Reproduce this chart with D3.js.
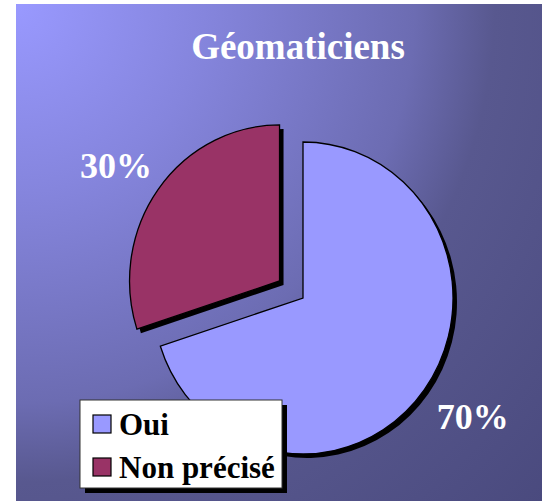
<!DOCTYPE html>
<html>
<head>
<meta charset="utf-8">
<script src="https://cdn.jsdelivr.net/npm/d3@7"></script>
<style>
  body { margin: 0; background: #fff; }
  svg { display: block; }
  text { font-family: "Liberation Serif", "Times New Roman", serif; font-weight: bold; }
</style>
</head>
<body>
<svg id="chart" width="542" height="501"></svg>
<script>
// data
var categories = ["Oui", "Non précisé"];
var values = [70, 30];
var labels = ["70%", "30%"];
var colors = ["#9999ff", "#993366"];
var explode = [0, 29];

var svg = d3.select("#chart");

// background, radial-ish from the top left corner
var defs = svg.append("defs");
var grad = defs.append("radialGradient")
    .attr("id", "bg")
    .attr("gradientUnits", "userSpaceOnUse")
    .attr("cx", 16).attr("cy", 4).attr("r", 725);
[[0, "#9999ff"], [0.26, "#8585dd"], [0.55, "#6c6cb2"], [0.66, "#58588f"], [1, "#4a4a7e"]]
    .forEach(function(s) {
        grad.append("stop").attr("offset", s[0]).attr("stop-color", s[1]);
    });

svg.append("rect")
    .attr("x", 16).attr("y", 4)
    .attr("width", 526).attr("height", 497)
    .attr("fill", "url(#bg)");

svg.append("text")
    .attr("x", 298).attr("y", 59)
    .attr("text-anchor", "middle")
    .attr("font-size", 37)
    .attr("fill", "#fff")
    .text("Géomaticiens");

// pie
var cx = 303, cy = 298, rx = 150, ry = 156;

var pie = d3.pie().sort(null).value(function(d) { return d; });
var arcs = pie(values);

var arc = d3.arc().innerRadius(0).outerRadius(1);

var g = svg.append("g");

var slice = g.selectAll("g.slice")
    .data(arcs)
    .enter()
    .append("g")
    .attr("class", "slice")
    .attr("transform", function(d, i) {
        var a = (d.startAngle + d.endAngle) / 2;
        var ox = cx + explode[i] * Math.sin(a);
        var oy = cy - explode[i] * Math.cos(a);
        return "translate(" + ox + "," + oy + ")";
    });

slice.append("path")
    .attr("transform", "translate(4,4) scale(" + rx + "," + ry + ")")
    .attr("d", arc)
    .attr("fill", "#000");

slice.append("path")
    .attr("transform", "scale(" + rx + "," + ry + ")")
    .attr("d", arc)
    .attr("fill", function(d, i) { return colors[i]; })
    .attr("stroke", "#000")
    .attr("stroke-width", 1.3)
    .attr("vector-effect", "non-scaling-stroke");

var labelR = 206;
slice.append("text")
    .attr("x", function(d) { return labelR * Math.sin((d.startAngle + d.endAngle) / 2) + 3; })
    .attr("y", function(d) { return -labelR * 0.97 * Math.cos((d.startAngle + d.endAngle) / 2) + 14; })
    .attr("text-anchor", "middle")
    .attr("font-size", 36)
    .attr("fill", "#fff")
    .text(function(d, i) { return labels[i]; });

// legend
var lx = 80, ly = 400, lw = 202, lh = 88;
var legend = svg.append("g");
legend.append("rect")
    .attr("x", lx + 5).attr("y", ly + 5)
    .attr("width", lw).attr("height", lh)
    .attr("fill", "#000");
legend.append("rect")
    .attr("x", lx).attr("y", ly)
    .attr("width", lw).attr("height", lh)
    .attr("fill", "#fff")
    .attr("stroke", "#333")
    .attr("stroke-width", 1);

var item = legend.selectAll("g.item")
    .data(categories)
    .enter()
    .append("g")
    .attr("class", "item")
    .attr("transform", function(d, i) { return "translate(" + (lx + 13) + "," + (ly + 15 + i * 43) + ")"; });

item.append("rect")
    .attr("width", 18).attr("height", 18)
    .attr("fill", function(d, i) { return colors[i]; })
    .attr("stroke", "#000")
    .attr("stroke-width", 1.2);

item.append("text")
    .attr("x", 26).attr("y", 20)
    .attr("font-size", 31)
    .attr("fill", "#000")
    .text(function(d) { return d; });
</script>
</body>
</html>
